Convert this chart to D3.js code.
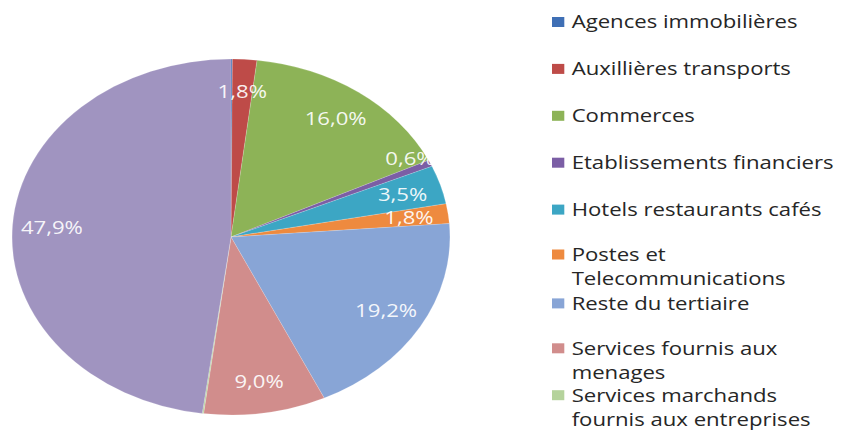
<!DOCTYPE html>
<html><head><meta charset="utf-8">
<script src="https://cdn.jsdelivr.net/npm/d3@7"></script>
<style>html,body{margin:0;padding:0;background:#fff;}svg{display:block;}</style>
</head><body>
<svg id="chart" width="843" height="430"></svg>
<script>
const categories = ["Agences immobilières","Auxillières transports","Commerces","Etablissements financiers","Hotels restaurants cafés","Postes et Telecommunications","Reste du tertiaire","Services fournis aux menages","Services marchands fournis aux entreprises","Autres"];
const legendLines = [["Agences immobilières"],["Auxillières transports"],["Commerces"],["Etablissements financiers"],["Hotels restaurants cafés"],["Postes et","Telecommunications"],["Reste du tertiaire"],["Services fournis aux","menages"],["Services marchands","fournis aux entreprises"],["Autres"]];
const values = [0.1, 1.8, 16.0, 0.6, 3.5, 1.8, 19.2, 9.0, 0.1, 47.9];
const labels = ["", "1,8%", "16,0%", "0,6%", "3,5%", "1,8%", "19,2%", "9,0%", "", "47,9%"];
const colors = ["#3F6FB5","#BE4B48","#8DB357","#7B5EA5","#3CA6C4","#EE8A3F","#88A5D6","#D18D8C","#B5D39C","#A094C0"];

const W = 843, H = 430;
const sx = 1.23;
const svg = d3.select("#chart");
const root = svg.append("g").attr("transform", `scale(${sx},1)`);

const cx = 231 / sx, cy = 237, R = 178;
const pie = d3.pie().sort(null).value(d => d)(values);
const arc = d3.arc().innerRadius(0).outerRadius(R);
const g = root.append("g").attr("transform", `translate(${cx},${cy})`);
g.selectAll("path").data(pie).enter().append("path")
  .attr("d", arc).attr("fill", (d,i) => colors[i])
  .attr("stroke", "#ffffff").attr("stroke-opacity", 0.25).attr("stroke-width", 0.6);

g.selectAll("text").data(pie).enter().append("text")
  .attr("transform", d => {
    const r = R * (d.data < 1 ? 0.93 : 0.82);
    const a = (d.startAngle + d.endAngle) / 2 - (d.data < 1 ? 0.07 : 0);
    return `translate(${Math.sin(a) * r},${-Math.cos(a) * r})`;
  })
  .attr("text-anchor", "middle").attr("dy", "0.36em")
  .attr("font-family", "'Open Sans', sans-serif").attr("font-size", 18)
  .attr("fill", "#ffffff").attr("fill-opacity", 0.92)
  .text((d,i) => labels[i]);

const lx = 552 / sx, ly0 = 22, step = 46.9;
const leg = root.append("g");
categories.forEach((c, i) => {
  const y = ly0 + i * step;
  if (y > H) return; // entry lies beyond the visible area, as in the reference
  const lines = legendLines[i];
  const y1 = lines.length > 1 ? y - 2 : y;
  leg.append("rect").attr("x", lx).attr("y", y1 - 5).attr("width", 10).attr("height", 10).attr("fill", colors[i]);
  const t = leg.append("text").attr("x", lx + 16).attr("y", y1)
    .attr("font-family", "'Open Sans', sans-serif").attr("font-size", 18).attr("fill", "#262626");
  lines.forEach((ln, k) => {
    t.append("tspan").attr("x", lx + 16).attr("dy", k === 0 ? "0.36em" : "24").text(ln);
  });
});
</script>
</body></html>
